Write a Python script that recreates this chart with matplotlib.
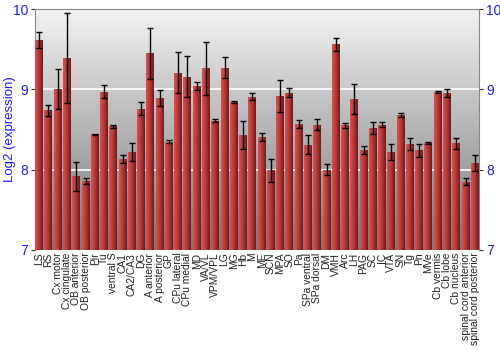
import numpy as np
import matplotlib
matplotlib.use('Agg')
import matplotlib.pyplot as plt
from matplotlib.colors import LinearSegmentedColormap

plt.rcParams['font.family'] = ['Liberation Sans', 'DejaVu Sans']

regions = ['LS', 'RS', 'Cx motor', 'Cx cingulate', 'OB anterior', 'OB posterior',
           'Pir', 'Tu', 'ventral S', 'CA1', 'CA2/CA3', 'DG', 'A anterior',
           'A posterior', 'GP', 'CPu lateral', 'CPu medial', 'MD', 'VA/VL',
           'VPM/VPL', 'LG', 'MG', 'Hb', 'M', 'ME', 'SCN', 'MPA', 'SO', 'Pa',
           'SPa ventral', 'SPa dorsal', 'DM', 'VMH', 'Arc', 'LH', 'PAG', 'SC',
           'IC', 'VTA', 'SN', 'Tg', 'Pn', 'MVe', 'Cb vermis', 'Cb lobe',
           'Cb nucleus', 'spinal cord anterior', 'spinal cord posterior']
expression = [9.61, 8.74, 9.00, 9.39, 7.92, 7.86, 8.44, 8.97, 8.54, 8.13, 8.22,
              8.76, 9.45, 8.89, 8.35, 9.21, 9.16, 9.04, 9.26, 8.61, 9.27, 8.84,
              8.43, 8.91, 8.41, 7.99, 8.92, 8.96, 8.57, 8.31, 8.56, 8.00, 9.56,
              8.55, 8.88, 8.24, 8.52, 8.56, 8.22, 8.68, 8.32, 8.24, 8.33, 8.97,
              8.95, 8.33, 7.85, 8.08]
error = [0.10, 0.07, 0.25, 0.56, 0.18, 0.04, 0.01, 0.08, 0.02, 0.05, 0.11,
         0.08, 0.32, 0.10, 0.02, 0.25, 0.26, 0.05, 0.33, 0.02, 0.13, 0.01,
         0.17, 0.04, 0.05, 0.14, 0.20, 0.06, 0.05, 0.12, 0.07, 0.07, 0.08,
         0.03, 0.19, 0.05, 0.07, 0.03, 0.10, 0.02, 0.07, 0.08, 0.01, 0.01,
         0.05, 0.07, 0.04, 0.10]

blue = '#1a1aff'

fig = plt.figure(figsize=(5, 3.5), dpi=100)
ax = fig.add_axes([0.07, 0.286, 0.888, 0.688])

x = np.arange(len(regions))
ax.set_xlim(-0.45, len(regions) - 0.55)
ax.set_ylim(7, 10)

# grey vertical gradient background
bg = LinearSegmentedColormap.from_list('bg', ['#777777', '#f2f2f2'])
ax.imshow(np.linspace(0, 1, 256).reshape(-1, 1), cmap=bg, origin='lower',
          extent=[-0.45, len(regions) - 0.55, 7, 10], aspect='auto', zorder=0)

for yv in [8, 9]:
    ax.axhline(yv, color='white', lw=1.2, zorder=1)

# bars with a horizontal red gradient
bars = ax.bar(x, np.array(expression) - 7, bottom=7, width=0.86,
              color='#b03535', edgecolor='none', zorder=2)
red = LinearSegmentedColormap.from_list('red', ['#d05555', '#b53838', '#7a1515'])
grad = np.linspace(0, 1, 64).reshape(1, -1)
for b in bars:
    x0, y0 = b.get_x(), b.get_y()
    im = ax.imshow(grad, cmap=red, extent=[x0, x0 + b.get_width(), y0, y0 + b.get_height()],
                   aspect='auto', zorder=3)
    im.set_clip_path(b)

ax.errorbar(x, expression, yerr=error, fmt='none', ecolor='black', elinewidth=1,
            capsize=2.5, capthick=1, zorder=4)

ax.set_xticks(x)
ax.set_xticklabels(regions, rotation=90, fontsize=7.4, color='#222222')
ax.tick_params(axis='x', length=0, pad=2)

ax.set_yticks([7, 8, 9, 10])
ax.tick_params(axis='y', labelcolor=blue, labelsize=10, length=3, color='#333333',
               right=True, labelright=True, pad=2)
ax.set_ylabel('Log2 (expression)', color=blue, fontsize=9.5)
ax.yaxis.set_label_coords(-0.043, 0.5)

for s in ['left', 'right', 'top']:
    ax.spines[s].set_color('#888888')
ax.spines['bottom'].set_visible(False)

plt.savefig('out.png')
